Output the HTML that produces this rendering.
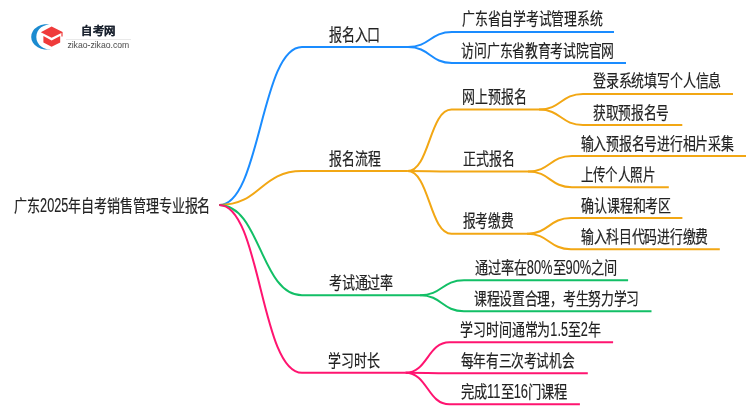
<!DOCTYPE html>
<html lang="zh-CN"><head><meta charset="utf-8"><style>
html,body{margin:0;padding:0;background:#fff;width:750px;height:410px;overflow:hidden}
svg{display:block;will-change:transform}
</style></head><body>
<svg width="750" height="410" viewBox="0 0 750 410">

<g>
 <path d="M52 24.9 A15.67 12.7 0 1 0 52 48.9 A12.87 12.3 0 1 1 52 24.9 Z" fill="#1b8bd0"/>
 <path d="M40.8 32.2 L51.6 26.5 L62.6 31.9 L62.6 36.4 L61.4 36.4 L61.4 33 L51.6 37.8 Z" fill="#ef3b3b"/>
 <path d="M43.4 36 L51.6 40.6 L60.2 36 L60.2 42.4 L51.6 46.8 L43.4 42.4 Z" fill="#ef3b3b"/>
 <text x="81.2" y="34.9" font-family="'Liberation Sans', sans-serif" font-size="10.8" font-weight="bold" fill="#1c2430" stroke="#1c2430" stroke-width="0.2" textLength="34.6" lengthAdjust="spacingAndGlyphs">自考网</text>
 <rect x="66" y="39" width="65" height="0.8" fill="#e4e4e4"/>
 <text x="67.4" y="47.5" font-family="'Liberation Sans', sans-serif" font-size="8.4" fill="#555555" stroke="#555555" stroke-width="0.05" textLength="61.8" lengthAdjust="spacingAndGlyphs">zikao-zikao.com</text>
</g>
<path d="M219.2 205C260.6 205 260.6 47 302 47L408 47" stroke="#1a8cff" stroke-width="2" fill="none"/>
<path d="M219.2 205C260.6 205 260.6 171.1 302 171.1L407.5 171.1" stroke="#f2a714" stroke-width="2" fill="none"/>
<path d="M219.2 205C260.6 205 260.6 295.3 302 295.3L420 295.3" stroke="#12bf66" stroke-width="2" fill="none"/>
<path d="M219.2 205C260.6 205 260.6 372.8 302 372.8L405.5 372.8" stroke="#ff1470" stroke-width="2" fill="none"/>
<path d="M408 47C430.0 47 430.0 32.0 452 32.0L614 32.0" stroke="#1a8cff" stroke-width="2" fill="none"/>
<path d="M408 47C430.0 47 430.0 63.0 452 63.0L626 63.0" stroke="#1a8cff" stroke-width="2" fill="none"/>
<path d="M407.5 171.1C429.5 171.1 429.5 109.6 451.5 109.6L539 109.6" stroke="#f2a714" stroke-width="2" fill="none"/>
<path d="M407.5 171.1C429.5 171.1 429.5 171.5 451.5 171.5L528 171.5" stroke="#f2a714" stroke-width="2" fill="none"/>
<path d="M407.5 171.1C429.5 171.1 429.5 233.7 451.5 233.7L527 233.7" stroke="#f2a714" stroke-width="2" fill="none"/>
<path d="M420 295.3C442.0 295.3 442.0 280.2 464 280.2L628.1 280.2" stroke="#12bf66" stroke-width="2" fill="none"/>
<path d="M420 295.3C442.0 295.3 442.0 311.2 464 311.2L651.5 311.2" stroke="#12bf66" stroke-width="2" fill="none"/>
<path d="M405.5 372.8C427.5 372.8 427.5 342.3 449.5 342.3L613.1 342.3" stroke="#ff1470" stroke-width="2" fill="none"/>
<path d="M405.5 372.8C427.5 372.8 427.5 373.2 449.5 373.2L587.8 373.2" stroke="#ff1470" stroke-width="2" fill="none"/>
<path d="M405.5 372.8C427.5 372.8 427.5 404.3 449.5 404.3L579.9 404.3" stroke="#ff1470" stroke-width="2" fill="none"/>
<path d="M539 109.6C561.0 109.6 561.0 93.9 583 93.9L733 93.9" stroke="#f2a714" stroke-width="2" fill="none"/>
<path d="M539 109.6C561.0 109.6 561.0 125.0 583 125.0L682.3 125.0" stroke="#f2a714" stroke-width="2" fill="none"/>
<path d="M528 171.5C550.0 171.5 550.0 156.0 572 156.0L746 156.0" stroke="#f2a714" stroke-width="2" fill="none"/>
<path d="M528 171.5C550.0 171.5 550.0 187.2 572 187.2L668.8 187.2" stroke="#f2a714" stroke-width="2" fill="none"/>
<path d="M527 233.7C549.0 233.7 549.0 218.1 571 218.1L682.4 218.1" stroke="#f2a714" stroke-width="2" fill="none"/>
<path d="M527 233.7C549.0 233.7 549.0 249.2 571 249.2L719.8 249.2" stroke="#f2a714" stroke-width="2" fill="none"/>
<g font-family="'Liberation Sans', sans-serif" fill="#222222" font-weight="400" stroke="#222222" stroke-width="0.2">
<text x="14.30" y="211.64" font-size="17.2"><tspan textLength="25.80" lengthAdjust="spacingAndGlyphs">广东</tspan><tspan font-size="20.12" stroke-width="0.12" textLength="28.34" lengthAdjust="spacingAndGlyphs">2025</tspan><tspan textLength="141.91" lengthAdjust="spacingAndGlyphs">年自考销售管理专业报名</tspan></text>
<text x="328.83" y="40.99" font-size="17.2" textLength="51.48" lengthAdjust="spacingAndGlyphs">报名入口</text>
<text x="329.34" y="164.51" font-size="17.2" textLength="50.99" lengthAdjust="spacingAndGlyphs">报名流程</text>
<text x="328.75" y="288.87" font-size="17.2" textLength="64.44" lengthAdjust="spacingAndGlyphs">考试通过率</text>
<text x="328.43" y="367.18" font-size="17.2" textLength="51.28" lengthAdjust="spacingAndGlyphs">学习时长</text>
<text x="462.07" y="25.26" font-size="17.2" textLength="140.30" lengthAdjust="spacingAndGlyphs">广东省自学考试管理系统</text>
<text x="461.47" y="56.71" font-size="17.2" textLength="152.61" lengthAdjust="spacingAndGlyphs">访问广东省教育考试院官网</text>
<text x="462.16" y="102.81" font-size="17.2" textLength="64.19" lengthAdjust="spacingAndGlyphs">网上预报名</text>
<text x="592.91" y="86.83" font-size="17.2" textLength="128.29" lengthAdjust="spacingAndGlyphs">登录系统填写个人信息</text>
<text x="593.18" y="118.51" font-size="17.2" textLength="75.69" lengthAdjust="spacingAndGlyphs">获取预报名号</text>
<text x="463.02" y="164.98" font-size="17.2" textLength="51.45" lengthAdjust="spacingAndGlyphs">正式报名</text>
<text x="580.65" y="149.59" font-size="17.2" textLength="152.91" lengthAdjust="spacingAndGlyphs">输入预报名号进行相片采集</text>
<text x="580.75" y="180.91" font-size="17.2" textLength="74.18" lengthAdjust="spacingAndGlyphs">上传个人照片</text>
<text x="462.84" y="227.14" font-size="17.2" textLength="50.41" lengthAdjust="spacingAndGlyphs">报考缴费</text>
<text x="581.24" y="211.58" font-size="17.2" textLength="89.78" lengthAdjust="spacingAndGlyphs">确认课程和考区</text>
<text x="580.79" y="242.72" font-size="17.2" textLength="127.40" lengthAdjust="spacingAndGlyphs">输入科目代码进行缴费</text>
<text x="474.75" y="273.83" font-size="17.2"><tspan textLength="52.07" lengthAdjust="spacingAndGlyphs">通过率在</tspan><tspan font-size="20.12" stroke-width="0.12" textLength="25.72" lengthAdjust="spacingAndGlyphs">80%</tspan><tspan textLength="13.02" lengthAdjust="spacingAndGlyphs">至</tspan><tspan font-size="20.12" stroke-width="0.12" textLength="25.72" lengthAdjust="spacingAndGlyphs">90%</tspan><tspan textLength="26.04" lengthAdjust="spacingAndGlyphs">之间</tspan></text>
<text x="473.83" y="304.51" font-size="17.2" textLength="165.29" lengthAdjust="spacingAndGlyphs">课程设置合理，考生努力学习</text>
<text x="460.45" y="335.59" font-size="17.2"><tspan textLength="89.88" lengthAdjust="spacingAndGlyphs">学习时间通常为</tspan><tspan font-size="20.12" stroke-width="0.12" textLength="17.63" lengthAdjust="spacingAndGlyphs">1.5</tspan><tspan textLength="12.84" lengthAdjust="spacingAndGlyphs">至</tspan><tspan font-size="20.12" stroke-width="0.12" textLength="7.06" lengthAdjust="spacingAndGlyphs">2</tspan><tspan textLength="12.84" lengthAdjust="spacingAndGlyphs">年</tspan></text>
<text x="460.71" y="366.71" font-size="17.2" textLength="113.52" lengthAdjust="spacingAndGlyphs">每年有三次考试机会</text>
<text x="460.82" y="397.72" font-size="17.2"><tspan textLength="26.26" lengthAdjust="spacingAndGlyphs">完成</tspan><tspan font-size="20.12" stroke-width="0.12" textLength="13.46" lengthAdjust="spacingAndGlyphs">11</tspan><tspan textLength="13.13" lengthAdjust="spacingAndGlyphs">至</tspan><tspan font-size="20.12" stroke-width="0.12" textLength="14.42" lengthAdjust="spacingAndGlyphs">16</tspan><tspan textLength="39.39" lengthAdjust="spacingAndGlyphs">门课程</tspan></text>
</g>
</svg></body></html>
